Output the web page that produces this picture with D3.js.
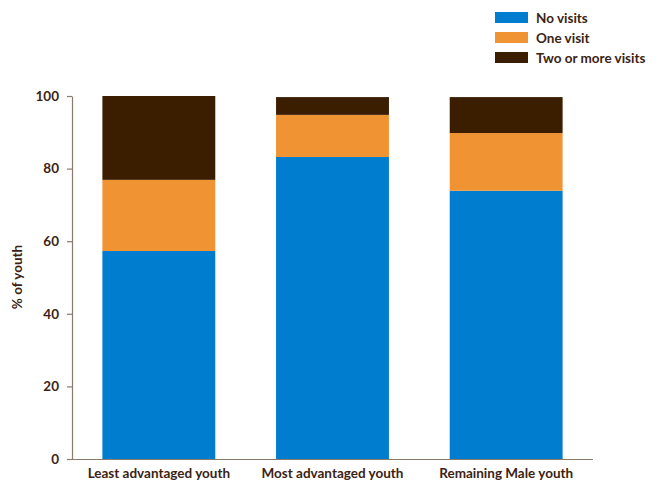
<!DOCTYPE html>
<html>
<head>
<meta charset="utf-8">
<script src="https://cdn.jsdelivr.net/npm/d3@7"></script>
<style>
  html, body { margin: 0; padding: 0; background: #fff; }
  svg text { font-family: Lato, "Open Sans", sans-serif; font-weight: 700; fill: #3b2314; }
</style>
</head>
<body>
<svg id="chart" width="657" height="483"></svg>
<script>
// Share of youth by number of visits, per group (stacked to ~100%)
const categories = ["Least advantaged youth", "Most advantaged youth", "Remaining Male youth"];
const seriesNames = ["No visits", "One visit", "Two or more visits"];
const noVisits = [57.3, 83.2, 73.9];
const oneVisit = [19.6, 11.6, 15.9];
const twoPlusVisits = [23.1, 4.9, 9.9];
const yTicks = [0, 20, 40, 60, 80, 100];
const colors = ["#007dcf", "#f09433", "#3b1d00"];

const rows = categories.map((c, i) => ({
  category: c,
  "No visits": noVisits[i],
  "One visit": oneVisit[i],
  "Two or more visits": twoPlusVisits[i]
}));

const fontSize = 13.5;
const svg = d3.select("#chart");
const x = d3.scaleBand().domain(categories).range([72, 593]).paddingInner(0.35).paddingOuter(0.175);
const y = d3.scaleLinear().domain([0, 100]).range([459, 96]);
const color = d3.scaleOrdinal().domain(seriesNames).range(colors);

const stacked = d3.stack().keys(seriesNames)(rows);

svg.append("g")
  .selectAll("g")
  .data(stacked)
  .join("g")
  .attr("fill", d => color(d.key))
  .selectAll("rect")
  .data(d => d)
  .join("rect")
  .attr("x", d => x(d.data.category))
  .attr("width", x.bandwidth())
  .attr("y", d => y(d[1]))
  .attr("height", d => y(d[0]) - y(d[1]));

const axisColor = "#8c7a6b";

// Y axis
const yAxis = svg.append("g")
  .attr("transform", "translate(72,0)")
  .call(d3.axisLeft(y).tickValues(yTicks).tickSize(5).tickSizeOuter(0).tickPadding(8));
yAxis.select(".domain").attr("stroke", axisColor).attr("stroke-width", 1.2);
yAxis.selectAll(".tick line").attr("stroke", axisColor).attr("stroke-width", 1.2);
yAxis.selectAll(".tick text").attr("font-size", fontSize).style("font-family", "Lato, sans-serif");

// X axis baseline
const xAxis = svg.append("g")
  .attr("transform", "translate(0,459)")
  .call(d3.axisBottom(x).tickSize(0).tickPadding(9));
xAxis.select(".domain").attr("d", "M67,0.5H593").attr("stroke", axisColor).attr("stroke-width", 1.2);
xAxis.selectAll(".tick text").attr("font-size", fontSize).style("font-family", "Lato, sans-serif");

// Y axis title
svg.append("text")
  .attr("transform", "translate(22,277) rotate(-90)")
  .attr("text-anchor", "middle")
  .attr("font-size", fontSize)
  .text("% of youth");

// Legend
const legend = svg.append("g")
  .selectAll("g")
  .data(seriesNames)
  .join("g")
  .attr("transform", (d, i) => `translate(495,${12 + i * 20})`);
legend.append("rect")
  .attr("width", 33)
  .attr("height", 11)
  .attr("fill", d => color(d));
legend.append("text")
  .attr("x", 41)
  .attr("y", 10.5)
  .attr("font-size", fontSize)
  .text(d => d);
</script>
</body>
</html>
